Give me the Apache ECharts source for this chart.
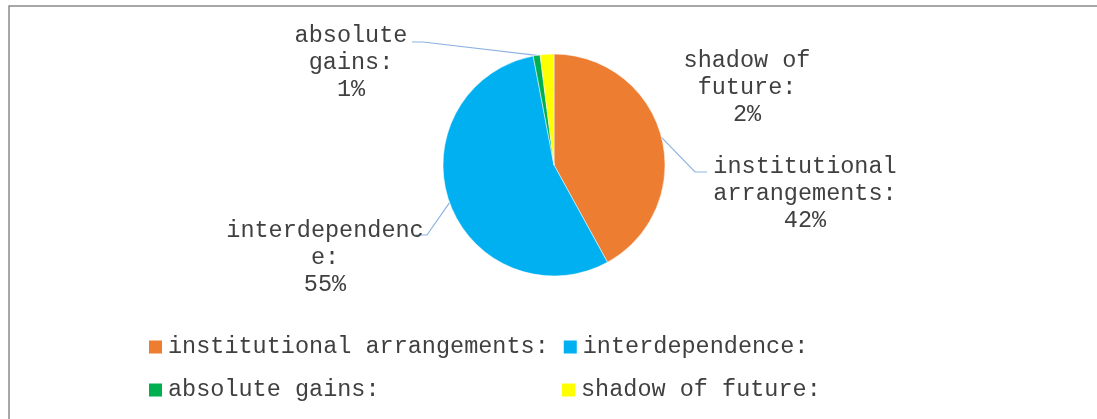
<!DOCTYPE html>
<html>
<head>
<meta charset="utf-8">
<script src="https://cdn.jsdelivr.net/npm/echarts@6/dist/echarts.min.js"></script>
<style>
  html, body { margin: 0; padding: 0; background: #fff; }
  #chart { width: 1097px; height: 419px; }
</style>
</head>
<body>
<div id="chart"></div>
<script>
// Share of each factor (percent)
const categories = ['institutional arrangements:', 'interdependence:', 'absolute gains:', 'shadow of future:'];
const shares = [42, 55, 1, 2];
const sliceColors = ['#ED7D31', '#00B0F0', '#00B050', '#FFFF00'];

// Where each data label sits (text centre) and how its leader line bends
const labelSpots = [
  { x: 805, y: 194, bend: [[695, 172], [707, 172]] },
  { x: 325, y: 258, bend: [[427, 235], [415, 235]] },
  { x: 351, y: 63,  bend: [[423, 42], [412, 42]] },
  { x: 747, y: 88,  bend: null }
];

const FONT = 'Liberation Mono, Courier New, monospace';
const FONT_SIZE = 23.5;
const TEXT_COLOR = '#404040';
const LABEL_MAX_CHARS = 14;

// Word-wrap a label to a fixed number of characters per line,
// splitting words that are longer than a whole line.
function wrapLabel(text, maxChars) {
  const lines = [];
  let line = '';
  text.split(' ').forEach(function (word) {
    while (word.length > maxChars) {
      if (line) { lines.push(line); line = ''; }
      lines.push(word.slice(0, maxChars));
      word = word.slice(maxChars);
    }
    if (!line) line = word;
    else if ((line + ' ' + word).length <= maxChars) line += ' ' + word;
    else { lines.push(line); line = word; }
  });
  if (line) lines.push(line);
  return lines.join('\n');
}

const chart = echarts.init(document.getElementById('chart'));

chart.setOption({
  animation: false,
  backgroundColor: '#fff',
  graphic: [{
    type: 'rect',
    shape: { x: 9, y: 6, width: 1200, height: 600 },
    style: { fill: 'none', stroke: '#8a8a8a', lineWidth: 1.5 },
    silent: true
  }],
  legend: {
    left: 147,
    top: 332,
    width: 860,
    padding: 0,
    orient: 'horizontal',
    itemWidth: 15,
    itemHeight: 15,
    itemGap: 13,
    icon: 'rect',
    data: categories,
    textStyle: {
      fontFamily: FONT,
      fontSize: FONT_SIZE,
      color: TEXT_COLOR,
      width: 379,
      lineHeight: 30
    }
  },
  series: [{
    type: 'pie',
    center: [554, 165],
    radius: [0, 111],
    startAngle: 90,
    clockwise: true,
    avoidLabelOverlap: false,
    itemStyle: { borderColor: '#fff', borderWidth: 0.5 },
    label: {
      show: true,
      position: 'outside',
      formatter: function (p) {
        return wrapLabel(p.name, LABEL_MAX_CHARS) + '\n' + p.value + '%';
      },
      fontFamily: FONT,
      fontSize: FONT_SIZE,
      lineHeight: 27,
      color: TEXT_COLOR,
      align: 'center'
    },
    labelLine: {
      show: true,
      lineStyle: { color: '#8db3e2', width: 1.2 }
    },
    labelLayout: function (params) {
      const spot = labelSpots[params.dataIndex];
      const out = { x: spot.x, y: spot.y, align: 'center', verticalAlign: 'middle' };
      if (spot.bend && params.labelLinePoints) {
        out.labelLinePoints = [params.labelLinePoints[0]].concat(spot.bend);
      }
      return out;
    },
    data: categories.map(function (name, i) {
      const item = { name: name, value: shares[i], itemStyle: { color: sliceColors[i] } };
      if (!labelSpots[i].bend) item.labelLine = { show: false };
      return item;
    })
  }]
});
</script>
</body>
</html>
